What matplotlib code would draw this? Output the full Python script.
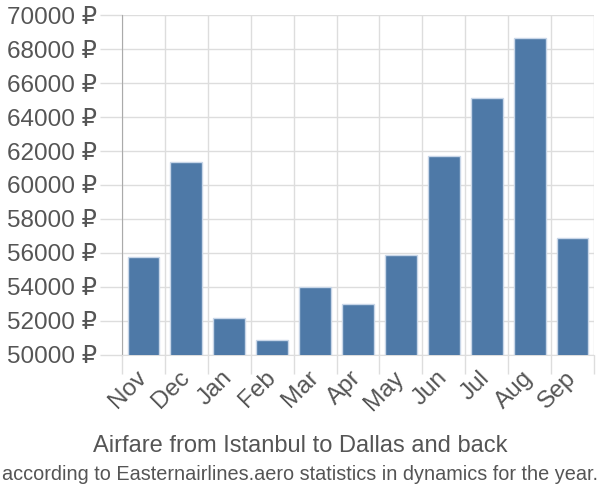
import matplotlib
matplotlib.use("Agg")
import matplotlib.pyplot as plt
import numpy as np
from matplotlib.transforms import ScaledTranslation

months = ["Nov", "Dec", "Jan", "Feb", "Mar", "Apr", "May", "Jun", "Jul", "Aug", "Sep"]
prices = [55790, 61350, 52180, 50880, 54000, 53020, 55860, 61710, 65100, 68630, 56900]
yticks = list(range(50000, 70001, 2000))
title1 = "Airfare from Istanbul to Dallas and back"
title2 = "according to Easternairlines.aero statistics in dynamics for the year."

plt.rcParams['font.family'] = ['Liberation Sans', 'DejaVu Sans']

fig = plt.figure(figsize=(6, 5), dpi=100)
ax = fig.add_axes([122/600, 1-355/500, (594-122)/600, (355-15)/500])

x = np.arange(len(months))
ax.bar(x, prices, width=0.74, color="#4e79a7", edgecolor="#c8d6e8", linewidth=1, zorder=3)
ax.set_ylim(50000, 70000)
ax.set_xlim(-0.5, len(months)-0.5)

ax.set_yticks(yticks)
ax.set_yticklabels([f"{v} ₽" for v in yticks], fontsize=17.5, color="#555555")
ax.set_xticks(x)
ax.set_xticklabels(months, rotation=45, ha="right", va="center", rotation_mode="anchor",
                   fontsize=17.5, color="#555555")
for lbl in ax.get_xticklabels():
    lbl.set_transform(lbl.get_transform() + ScaledTranslation(10/100, 0, fig.dpi_scale_trans))
ax.set_xticks(np.arange(-0.5, len(months)), minor=True)

ax.tick_params(axis="y", length=16, color="#dddddd", width=1, pad=2)
ax.tick_params(axis="x", which="major", length=0, pad=14)
ax.tick_params(axis="x", which="minor", length=14, color="#dddddd", width=1)

ax.grid(True, axis="y", color="#dddddd", linewidth=1, zorder=0)
ax.grid(True, axis="x", which="minor", color="#dddddd", linewidth=1, zorder=0)
ax.set_axisbelow(True)

for s in ["top", "right"]:
    ax.spines[s].set_visible(False)
ax.spines["left"].set_color("#aaaaaa")
ax.spines["bottom"].set_color("#dddddd")

fig.text(0.5, 1-446/500, title1, ha="center", va="center", fontsize=17, color="#555555")
fig.text(0.5, 1-475/500, title2, ha="center", va="center", fontsize=14.3, color="#555555")

fig.savefig("out.png", dpi=100)
